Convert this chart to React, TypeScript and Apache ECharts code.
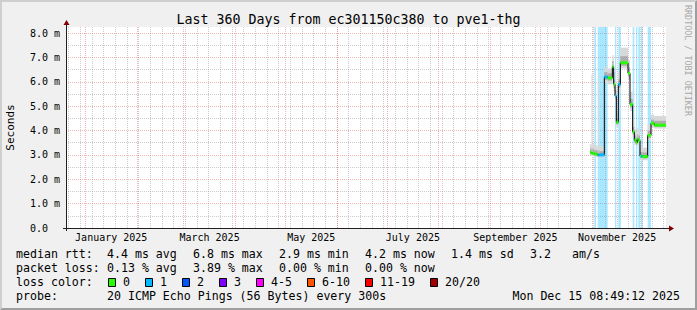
import React, { useEffect, useRef } from 'react';
import * as echarts from 'echarts';

// ---------- data ----------
const TITLE = 'Last 360 Days from ec301150c380 to pve1-thg';
const END_TIME = Date.UTC(2025, 11, 15, 8, 49, 12);
const SPAN_DAYS = 360;
const Y_MAX = 8.25;

// samples: start (days since graph start), each sample lasts until the next one
const sampleStartDay = [314.4, 315.3, 315.9, 317.0, 318.0, 319.0, 319.4, 320.0, 323.0, 325.0, 327.8, 328.6, 329.4, 330.2, 331.4, 332.6, 333.0, 337.2, 338.4, 340.0, 341.0, 342.0, 342.8, 343.4, 344.4, 345.0, 346.0, 349.0, 351.0, 353.0];
const sampleEndDay = 360;
const medianMs = [3.10, 3.08, 3.07, 3.04, 3.03, 3.00, 3.00, 3.00, 6.20, 6.16, 6.62, 5.90, 5.42, 4.34, 5.89, 6.78, 6.78, 6.35, 5.07, 3.95, 3.60, 3.50, 3.65, 3.60, 2.95, 2.95, 2.93, 3.80, 4.30, 4.22];
const lossCount = [0, 0, 0, 0.4, 0, 0.8, 0.8, 0.8, 0.7, 0, 0, 0, 0.7, 0, 0.6, 0.3, 0, 0, 0, 0.4, 0, 0.4, 0, 0.4, 0, 0.7, 0, 0.4, 0, 0];
const pingLow = [2.97, 2.96, 2.95, 2.93, 2.92, 2.88, 2.88, 2.88, 5.95, 5.90, 6.35, 5.60, 5.15, 4.15, 5.60, 6.55, 6.55, 6.10, 4.80, 3.75, 3.42, 3.35, 3.48, 3.42, 2.80, 2.80, 2.78, 3.60, 4.12, 4.08];
const pingQ1 = [3.03, 3.02, 3.01, 2.99, 2.98, 2.95, 2.95, 2.95, 6.08, 6.05, 6.50, 5.75, 5.30, 4.25, 5.75, 6.65, 6.66, 6.22, 4.95, 3.85, 3.52, 3.43, 3.57, 3.52, 2.88, 2.88, 2.86, 3.70, 4.22, 4.15];
const pingQ3 = [3.25, 3.30, 3.25, 3.20, 3.20, 3.15, 3.20, 3.15, 6.40, 6.35, 6.85, 6.10, 5.65, 4.50, 6.10, 7.05, 7.05, 6.60, 5.30, 4.15, 3.80, 3.70, 3.85, 3.80, 3.12, 3.12, 3.10, 4.00, 4.45, 4.40];
const pingHigh = [3.45, 6.30, 3.45, 3.40, 3.40, 3.35, 6.30, 3.35, 6.60, 6.55, 7.10, 6.40, 5.95, 4.75, 6.40, 7.35, 7.40, 6.90, 5.60, 4.40, 4.05, 3.95, 4.10, 4.05, 3.35, 3.35, 3.30, 4.25, 4.65, 4.60];

const labelYear = 2025;
const labelMonths = [0, 2, 4, 6, 8, 10];
const monthNames = ['January', 'February', 'March', 'April', 'May', 'June', 'July', 'August', 'September', 'October', 'November', 'December'];
const yTickValues = [0, 1, 2, 3, 4, 5, 6, 7, 8];

const lossColorLabels = ['0', '1', '2', '3', '4-5', '6-10', '11-19', '20/20'];
const lossColorUpper = [0, 1, 2, 3, 5, 10, 19, 20];
const lossColors = ['#26ff00', '#00b8ff', '#0059ff', '#7e00ff', '#ff00ff', '#ff5500', '#ff0000', '#a10000'];

const rttStats = [4.4, 6.8, 2.9, 4.2]; // avg max min now
const rttSd = 1.4;
const amPerSec = 3.2;
const lossStats = [0.13, 3.89, 0.0, 0.0]; // avg max min now
const statNames = ['avg', 'max', 'min', 'now'];
const probeText = '20 ICMP Echo Pings (56 Bytes) every 300s';
const stampText = 'Mon Dec 15 08:49:12 2025';

// ---------- helpers ----------
const DAY = 86400000;
const START_TIME = END_TIME - SPAN_DAYS * DAY;
const toDay = (t: number) => (t - START_TIME) / DAY;
const FONT = '"DejaVu Sans Mono", monospace';

function lossColor(loss: number) {
  const r = Math.round(loss);
  for (let i = 0; i < lossColorUpper.length; i++) if (r <= lossColorUpper[i]) return lossColors[i];
  return lossColors[lossColors.length - 1];
}

function txt(text: string, x: number, y: number, size: number, align = 'left', fill = '#000', rotation = 0) {
  return {
    type: 'text', x, y, z: 100, silent: true, rotation,
    style: {
      text, fill, font: `${size}px ${FONT}`,
      textAlign: align, textVerticalAlign: 'middle', align, verticalAlign: 'middle',
    },
  };
}

export default function App() {
  const ref = useRef<HTMLDivElement>(null);
  useEffect(() => {
    const chart = echarts.init(ref.current!, null, { renderer: 'svg' });

    const monthStarts: number[] = [];
    for (let m = 0; m < 12; m++) {
      const d = toDay(Date.UTC(2025, m, 1));
      if (d > 0 && d < SPAN_DAYS) monthStarts.push(d);
    }
    const weekLines: number[] = [];
    let t = Date.UTC(2024, 11, 20);
    while (new Date(t).getUTCDay() !== 0) t += DAY;
    for (; t < END_TIME; t += 7 * DAY) {
      const d = toDay(t);
      if (d > 0) weekLines.push(d);
    }
    const labelMids = labelMonths.map((m) => (toDay(Date.UTC(labelYear, m, 1)) + toDay(Date.UTC(labelYear, m + 1, 1))) / 2);
    const labelTexts = labelMonths.map((m) => `${monthNames[m]} ${labelYear}`);

    const n = sampleStartDay.length;
    const ends = sampleStartDay.map((s, i) => (i < n - 1 ? sampleStartDay[i + 1] : sampleEndDay));
    const bandData = sampleStartDay.map((s, i) => [s, ends[i], lossCount[i]]);
    const smokeData = sampleStartDay.map((s, i) => [s, ends[i], pingLow[i], pingQ1[i], pingQ3[i], pingHigh[i]]);
    const medData = sampleStartDay.map((s, i) => [s, ends[i], medianMs[i], lossCount[i]]);
    const lineData = sampleStartDay.map((s, i) => [s, medianMs[i]]).concat([[sampleEndDay, medianMs[n - 1]]]);

    const halfLines: number[] = [];
    const unitLines: number[] = [];
    yTickValues.forEach((v) => {
      if (v > 0) unitLines.push(v);
      if (v + 0.5 < Y_MAX) halfLines.push(v + 0.5);
    });

    const gridStyleGray = { color: 'rgba(143,143,143,0.45)', width: 1, type: [1, 1] };
    const gridStyleRed = { color: 'rgba(222,80,80,0.42)', width: 1, type: [1, 1] };

    const W = 697, H = 310;
    const gx0 = 66, gy0 = 27, gw = 600, gh = 201;
    const axisY = gy0 + gh;

    const graphics: any[] = [
      // 3D shade border
      { type: 'polygon', z: 100, silent: true, shape: { points: [[0, 0], [W, 0], [W - 2, 2], [2, 2], [2, H - 2], [0, H]] }, style: { fill: '#cfcfcf' } },
      { type: 'polygon', z: 100, silent: true, shape: { points: [[W, 0], [W, H], [0, H], [2, H - 2], [W - 2, H - 2], [W - 2, 2]] }, style: { fill: '#9e9e9e' } },
      // axes
      { type: 'line', z: 100, silent: true, shape: { x1: gx0 - 3, y1: axisY + 0.5, x2: gx0 + gw + 4, y2: axisY + 0.5 }, style: { stroke: '#202020', lineWidth: 1 } },
      { type: 'line', z: 100, silent: true, shape: { x1: gx0 + 0.5, y1: axisY + 3, x2: gx0 + 0.5, y2: gy0 - 3 }, style: { stroke: '#202020', lineWidth: 1 } },
      { type: 'polygon', z: 101, silent: true, shape: { points: [[gx0 + gw + 3, axisY - 2.5], [gx0 + gw + 3, axisY + 3.5], [gx0 + gw + 8, axisY + 0.5]] }, style: { fill: '#7f0000' } },
      { type: 'polygon', z: 101, silent: true, shape: { points: [[gx0 - 2.5, gy0 - 2], [gx0 + 3.5, gy0 - 2], [gx0 + 0.5, gy0 - 7]] }, style: { fill: '#7f0000' } },
      // title & side texts
      txt(TITLE, W / 2, 19, 13.3, 'center'),
      txt('Seconds', 10.5, gy0 + gh / 2, 11, 'center', '#000', Math.PI / 2),
      txt('RRDTOOL / TOBI OETIKER', 688, 5, 8.4, 'left', '#a8a8a8', -Math.PI / 2),
    ];

    // legend
    const colX = [107, 193, 279, 365];
    const rowY = [254.3, 268.3, 282.3, 296.2];
    const LF = 11.6;
    graphics.push(txt('median rtt:', 16, rowY[0], LF));
    rttStats.forEach((v, i) => graphics.push(txt(`${v.toFixed(1)} ms ${statNames[i]}`, colX[i], rowY[0], LF)));
    graphics.push(txt(`${rttSd.toFixed(1)} ms sd`, 451, rowY[0], LF));
    graphics.push(txt(amPerSec.toFixed(1), 530, rowY[0], LF));
    graphics.push(txt('am/s', 572, rowY[0], LF));
    graphics.push(txt('packet loss:', 16, rowY[1], LF));
    lossStats.forEach((v, i) => graphics.push(txt(`${v.toFixed(2)} % ${statNames[i]}`, colX[i], rowY[1], LF)));
    graphics.push(txt('loss color:', 16, rowY[2], LF));
    let bx = 108.5;
    lossColorLabels.forEach((lab, i) => {
      graphics.push({ type: 'rect', z: 100, silent: true, shape: { x: bx, y: 278.5, width: 7, height: 8 }, style: { fill: lossColors[i], stroke: '#000', lineWidth: 1 } });
      graphics.push(txt(lab, bx + 14.5, rowY[2], LF));
      bx += 37 + 7 * (lab.length - 1);
    });
    graphics.push(txt('probe:', 16, rowY[3], LF));
    graphics.push(txt(probeText, 107, rowY[3], LF));
    graphics.push(txt(stampText, 680, rowY[3], LF, 'right'));

    const option: any = {
      animation: false,
      backgroundColor: '#f0f0f0',
      grid: { left: gx0, top: gy0, width: gw, height: gh, show: true, backgroundColor: '#ffffff', borderWidth: 0, containLabel: false, outerBoundsMode: 'none' },
      xAxis: {
        type: 'value', min: 0, max: SPAN_DAYS,
        axisLine: { show: false },
        axisTick: { show: false },
        splitLine: { show: false },
        axisLabel: {
          customValues: labelMids,
          margin: 4,
          fontFamily: FONT, fontSize: 10, color: '#000',
          formatter: (v: number) => {
            const i = labelMids.findIndex((m) => Math.abs(m - v) < 0.01);
            return i >= 0 ? labelTexts[i] : '';
          },
        },
      },
      yAxis: {
        type: 'value', min: 0, max: Y_MAX, interval: 1,
        axisLine: { show: false },
        axisTick: { show: false },
        splitLine: { show: false },
        axisLabel: {
          align: 'left', margin: 36,
          fontFamily: FONT, fontSize: 10, color: '#000',
          formatter: (v: number) => {
            if (Math.abs(v - Math.round(v)) > 1e-6 || !yTickValues.includes(Math.round(v))) return '';
            return v === 0 ? '0.0' : `${v.toFixed(1)} m`;
          },
        },
      },
      graphic: graphics,
      series: [
        {
          type: 'line', data: [], silent: true, z: 1,
          markLine: {
            z: 1, silent: true, symbol: ['none', 'none'], label: { show: false }, emphasis: { disabled: true },
            lineStyle: gridStyleGray,
            data: weekLines.map((v) => ({ xAxis: v })).concat(halfLines.map((v) => ({ yAxis: v })) as any),
          },
        },
        {
          type: 'line', data: [], silent: true, z: 1,
          markLine: {
            z: 2, silent: true, symbol: ['none', 'none'], label: { show: false }, emphasis: { disabled: true },
            lineStyle: gridStyleRed,
            data: monthStarts.map((v) => ({ xAxis: v })).concat(unitLines.map((v) => ({ yAxis: v })) as any),
          },
        },
        {
          type: 'custom', z: 3, silent: true, clip: true,
          encode: { x: [0, 1], y: 2 },
          data: bandData,
          renderItem: (params: any, api: any) => {
            const loss = api.value(2);
            if (!(loss > 0)) return null;
            const p0 = api.coord([api.value(0), Y_MAX]);
            const p1 = api.coord([api.value(1), 0]);
            return { type: 'rect', shape: { x: p0[0], y: p0[1], width: p1[0] - p0[0], height: p1[1] - p0[1] }, style: { fill: 'rgba(0,184,255,0.34)' } };
          },
        },
        {
          type: 'custom', z: 4, silent: true, clip: true,
          encode: { x: [0, 1], y: [2, 5] },
          data: smokeData,
          renderItem: (params: any, api: any) => {
            const s = api.value(0), e = api.value(1);
            const a0 = api.coord([s, api.value(5)]);
            const a1 = api.coord([e, api.value(2)]);
            const b0 = api.coord([s, api.value(4)]);
            const b1 = api.coord([e, api.value(3)]);
            return {
              type: 'group',
              children: [
                { type: 'rect', shape: { x: a0[0], y: a0[1], width: a1[0] - a0[0], height: a1[1] - a0[1] }, style: { fill: '#d8d8d8' } },
                { type: 'rect', shape: { x: b0[0], y: b0[1], width: b1[0] - b0[0], height: b1[1] - b0[1] }, style: { fill: '#adadad' } },
              ],
            };
          },
        },
        {
          type: 'line', z: 5, silent: true, step: 'end', symbol: 'none',
          data: lineData,
          lineStyle: { color: '#000000', width: 1 },
        },
        {
          type: 'custom', z: 6, silent: true, clip: true,
          encode: { x: [0, 1], y: 2 },
          data: medData,
          renderItem: (params: any, api: any) => {
            const p0 = api.coord([api.value(0), api.value(2)]);
            const p1 = api.coord([api.value(1), api.value(2)]);
            return { type: 'rect', shape: { x: p0[0], y: p0[1] - 1.5, width: p1[0] - p0[0], height: 3 }, style: { fill: lossColor(api.value(3)) } };
          },
        },
      ],
    };
    chart.setOption(option);
    return () => chart.dispose();
  }, []);

  return <div ref={ref} style={{ position: 'fixed', left: 0, top: 0, width: 697, height: 310 }} />;
}
